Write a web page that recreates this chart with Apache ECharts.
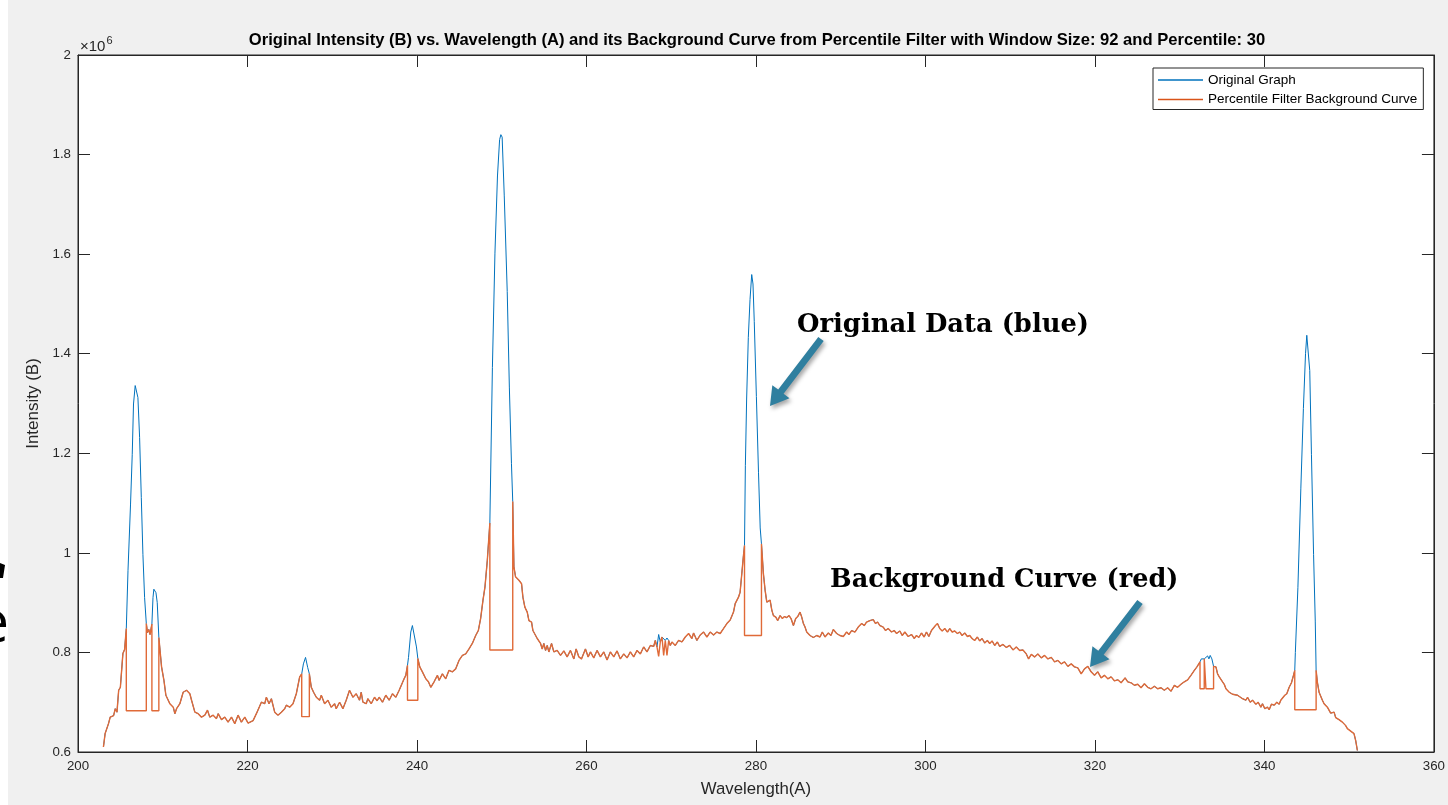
<!DOCTYPE html>
<html>
<head>
<meta charset="utf-8">
<script src="https://cdn.jsdelivr.net/npm/echarts/dist/echarts.min.js"></script>
<style>
  html, body { margin: 0; padding: 0; background: #ffffff; }
  #chart { width: 1448px; height: 805px; }
</style>
</head>
<body>
<div id="chart"></div>
<script>
// Intensity values are in units of 10^6 (the axis carries the x10^6 multiplier).

// Percentile-filter background curve (x = wavelength, A).
// Repeated wavelengths mark the vertical steps where the filter flattens a peak.
const wavelength = [
  203.0, 203.2, 203.6, 203.8, 204.2, 204.4, 204.6, 204.8, 205.0, 205.3,
  205.5, 205.7, 205.7, 208.06, 208.06, 208.2, 208.35, 208.5, 208.72, 208.72,
  209.54, 209.54, 209.86, 210.14, 210.37, 210.84, 211.24, 211.43, 211.63, 212.02,
  212.41, 212.61, 212.81, 213.0, 213.2, 213.4, 213.79, 214.18, 214.57, 214.97,
  215.28, 215.55, 215.95, 216.34, 216.54, 216.93, 217.32, 217.71, 218.11, 218.5,
  218.89, 219.28, 219.68, 220.07, 220.66, 221.05, 221.64, 222.03, 222.23, 222.54,
  222.82, 223.21, 223.6, 224.0, 224.39, 224.58, 224.98, 225.37, 225.76, 226.16,
  226.4, 226.4, 227.3, 227.3, 227.53, 227.8, 228.12, 228.51, 228.71, 229.1,
  229.49, 229.88, 230.28, 230.47, 230.87, 231.26, 231.65, 232.04, 232.44, 232.83,
  233.22, 233.42, 233.62, 234.01, 234.2, 234.6, 234.99, 235.3, 235.54, 235.93,
  236.32, 236.72, 237.11, 237.5, 237.9, 238.09, 238.48, 238.68, 238.88, 238.88,
  240.1, 240.1, 240.33, 240.64, 241.04, 241.35, 241.63, 242.02, 242.41, 242.61,
  243.0, 243.39, 243.78, 244.18, 244.57, 244.96, 245.36, 245.75, 246.14, 246.53,
  246.93, 247.24, 247.51, 247.79, 248.02, 248.3, 248.6, 248.6, 251.3, 251.3,
  251.44, 251.63, 252.03, 252.34, 252.5, 252.73, 253.01, 253.21, 253.52, 253.68,
  253.91, 254.19, 254.38, 254.58, 254.78, 254.97, 255.17, 255.37, 255.56, 255.88,
  256.15, 256.54, 256.94, 257.33, 257.72, 258.11, 258.51, 258.78, 259.1, 259.41,
  259.88, 260.2, 260.47, 260.86, 261.25, 261.65, 262.04, 262.43, 262.82, 263.22,
  263.61, 264.0, 264.4, 264.79, 265.18, 265.57, 265.97, 266.36, 266.75, 267.14,
  267.54, 267.93, 268.12, 268.32, 268.52, 268.71, 268.91, 269.11, 269.3, 269.5,
  269.7, 269.89, 270.09, 270.48, 270.87, 271.27, 271.66, 272.05, 272.44, 272.64,
  273.03, 273.42, 273.82, 274.21, 274.6, 275.0, 275.39, 275.78, 276.17, 276.57,
  276.96, 277.35, 277.55, 277.94, 278.13, 278.33, 278.5, 278.65, 278.65, 280.65,
  280.65, 280.88, 281.08, 281.28, 281.47, 281.67, 281.87, 282.06, 282.34, 282.57,
  282.85, 283.12, 283.36, 283.63, 283.91, 284.14, 284.42, 284.69, 284.93, 285.2,
  285.4, 285.6, 285.79, 285.99, 286.38, 286.77, 287.17, 287.56, 287.83, 288.15,
  288.54, 288.85, 289.13, 289.52, 289.91, 290.31, 290.7, 290.97, 291.29, 291.68,
  292.07, 292.47, 292.78, 293.05, 293.45, 293.84, 294.11, 294.35, 294.63, 295.02,
  295.29, 295.6, 296.0, 296.31, 296.59, 296.98, 297.26, 297.57, 297.96, 298.36,
  298.67, 298.94, 299.22, 299.53, 299.85, 300.12, 300.4, 300.71, 300.91, 301.18,
  301.42, 301.69, 301.97, 302.28, 302.6, 302.87, 303.15, 303.46, 303.77, 304.05,
  304.32, 304.64, 304.95, 305.23, 305.5, 305.81, 306.13, 306.4, 306.68, 306.99,
  307.31, 307.58, 307.86, 308.17, 308.49, 308.76, 309.15, 309.55, 309.94, 310.33,
  310.72, 311.12, 311.51, 311.9, 312.17, 312.49, 312.88, 313.27, 313.67, 314.06,
  314.45, 314.85, 315.24, 315.63, 316.02, 316.41, 316.81, 317.2, 317.59, 317.98,
  318.38, 318.77, 319.16, 319.55, 319.95, 320.34, 320.73, 321.12, 321.52, 321.91,
  322.3, 322.7, 323.09, 323.56, 323.87, 324.27, 324.66, 325.05, 325.44, 325.84,
  326.23, 326.62, 327.01, 327.41, 327.8, 328.19, 328.58, 328.98, 329.37, 329.76,
  330.15, 330.55, 330.94, 331.33, 331.73, 332.04, 332.4, 332.4, 332.9, 332.9,
  333.1, 333.1, 334.0, 334.0, 334.28, 334.47, 334.67, 334.87, 335.06, 335.26,
  335.46, 335.65, 335.85, 336.04, 336.24, 336.44, 336.83, 337.03, 337.42, 337.81,
  338.01, 338.32, 338.6, 338.99, 339.26, 339.58, 339.77, 340.05, 340.36, 340.56,
  340.83, 341.15, 341.46, 341.74, 341.93, 342.13, 342.4, 342.64, 342.92, 343.19,
  343.43, 343.58, 343.58, 346.1, 346.1, 346.25, 346.45, 346.64, 346.84, 347.04,
  347.23, 347.43, 347.63, 347.82, 348.02, 348.22, 348.41, 348.61, 348.8, 349.0,
  349.2, 349.39, 349.59, 349.79, 349.98, 350.18, 350.38, 350.57, 350.77, 350.97
];

const background = [
  0.610, 0.637, 0.657, 0.670, 0.673, 0.687, 0.680, 0.724, 0.730, 0.798,
  0.806, 0.848, 0.683, 0.683, 0.858, 0.840, 0.846, 0.836, 0.857, 0.683,
  0.683, 0.830, 0.771, 0.744, 0.714, 0.697, 0.690, 0.677, 0.687, 0.697,
  0.720, 0.717, 0.724, 0.727, 0.717, 0.704, 0.680, 0.677, 0.670, 0.674,
  0.684, 0.670, 0.674, 0.667, 0.677, 0.665, 0.670, 0.660, 0.670, 0.657,
  0.674, 0.660, 0.670, 0.658, 0.663, 0.677, 0.700, 0.697, 0.710, 0.697,
  0.707, 0.680, 0.674, 0.680, 0.687, 0.694, 0.690, 0.697, 0.717, 0.751,
  0.757, 0.671, 0.671, 0.757, 0.730, 0.720, 0.710, 0.704, 0.714, 0.697,
  0.704, 0.690, 0.697, 0.687, 0.700, 0.687, 0.704, 0.724, 0.710, 0.717,
  0.704, 0.720, 0.700, 0.697, 0.707, 0.697, 0.710, 0.703, 0.710, 0.700,
  0.714, 0.704, 0.717, 0.710, 0.724, 0.720, 0.747, 0.754, 0.774, 0.704,
  0.704, 0.788, 0.771, 0.761, 0.747, 0.741, 0.730, 0.741, 0.754, 0.744,
  0.757, 0.747, 0.764, 0.761, 0.767, 0.784, 0.794, 0.797, 0.807, 0.818,
  0.834, 0.844, 0.868, 0.905, 0.931, 0.985, 1.060, 0.805, 0.805, 1.103,
  0.972, 0.952, 0.945, 0.938, 0.911, 0.891, 0.881, 0.864, 0.861, 0.844,
  0.841, 0.828, 0.824, 0.818, 0.807, 0.818, 0.804, 0.814, 0.801, 0.818,
  0.801, 0.804, 0.794, 0.803, 0.791, 0.804, 0.787, 0.807, 0.791, 0.787,
  0.807, 0.791, 0.801, 0.789, 0.804, 0.791, 0.801, 0.785, 0.801, 0.791,
  0.803, 0.787, 0.797, 0.789, 0.801, 0.791, 0.804, 0.797, 0.811, 0.801,
  0.814, 0.812, 0.824, 0.811, 0.792, 0.821, 0.831, 0.794, 0.824, 0.794,
  0.824, 0.814, 0.821, 0.814, 0.824, 0.821, 0.831, 0.838, 0.828, 0.839,
  0.824, 0.835, 0.841, 0.831, 0.841, 0.835, 0.841, 0.838, 0.848, 0.858,
  0.865, 0.881, 0.898, 0.911, 0.921, 0.958, 0.990, 1.015, 0.834, 0.834,
  1.018, 0.958, 0.925, 0.901, 0.898, 0.905, 0.885, 0.874, 0.871, 0.864,
  0.874, 0.868, 0.872, 0.870, 0.874, 0.868, 0.854, 0.868, 0.872, 0.881,
  0.871, 0.858, 0.851, 0.841, 0.834, 0.830, 0.834, 0.831, 0.841, 0.831,
  0.839, 0.834, 0.846, 0.838, 0.834, 0.832, 0.841, 0.836, 0.844, 0.841,
  0.851, 0.858, 0.854, 0.861, 0.864, 0.866, 0.858, 0.861, 0.854, 0.851,
  0.844, 0.848, 0.841, 0.844, 0.838, 0.843, 0.834, 0.841, 0.832, 0.836,
  0.828, 0.834, 0.830, 0.839, 0.831, 0.841, 0.832, 0.844, 0.848, 0.854,
  0.858, 0.848, 0.843, 0.848, 0.841, 0.848, 0.841, 0.843, 0.838, 0.841,
  0.834, 0.839, 0.832, 0.834, 0.828, 0.824, 0.831, 0.823, 0.828, 0.819,
  0.824, 0.818, 0.823, 0.814, 0.821, 0.812, 0.816, 0.810, 0.814, 0.805,
  0.811, 0.804, 0.805, 0.797, 0.787, 0.796, 0.791, 0.797, 0.789, 0.794,
  0.787, 0.790, 0.781, 0.784, 0.777, 0.781, 0.772, 0.777, 0.771, 0.769,
  0.757, 0.767, 0.772, 0.761, 0.754, 0.761, 0.749, 0.754, 0.747, 0.751,
  0.743, 0.745, 0.739, 0.749, 0.741, 0.739, 0.734, 0.736, 0.729, 0.737,
  0.730, 0.727, 0.732, 0.727, 0.729, 0.724, 0.729, 0.722, 0.734, 0.730,
  0.736, 0.741, 0.745, 0.754, 0.764, 0.771, 0.781, 0.727, 0.727, 0.787,
  0.790, 0.727, 0.727, 0.772, 0.771, 0.757, 0.751, 0.747, 0.741, 0.736,
  0.727, 0.730, 0.720, 0.724, 0.716, 0.720, 0.714, 0.718, 0.707, 0.704,
  0.710, 0.700, 0.704, 0.696, 0.700, 0.690, 0.697, 0.687, 0.690, 0.685,
  0.696, 0.694, 0.700, 0.696, 0.704, 0.705, 0.714, 0.717, 0.730, 0.739,
  0.754, 0.764, 0.685, 0.685, 0.764, 0.740, 0.720, 0.717, 0.704, 0.697,
  0.700, 0.690, 0.687, 0.678, 0.676, 0.680, 0.669, 0.672, 0.665, 0.669,
  0.660, 0.658, 0.653, 0.647, 0.650, 0.642, 0.640, 0.637, 0.623, 0.603
];

// Original spectrum inside each filtered window (where it rises above the background).
// Outside these windows the original spectrum coincides with the background curve.
const peakWavelength = [
  [205.7, 205.9, 206.2, 206.4, 206.55, 206.75, 206.85, 207.07, 207.27, 207.47, 207.66, 207.86, 208.06],
  [208.72, 208.85, 208.95, 209.1, 209.2, 209.35, 209.54],
  [226.4, 226.6, 226.85, 226.95, 227.1, 227.3],
  [238.88, 239.0, 239.27, 239.46, 239.66, 239.94, 240.1],
  [248.6, 248.9, 249.2, 249.5, 249.75, 249.9, 250.05, 250.3, 250.65, 250.9, 251.15, 251.3],
  [268.32, 268.52, 268.71, 268.91, 269.11, 269.3, 269.5, 269.7, 269.89],
  [278.65, 278.75, 278.9, 279.1, 279.3, 279.5, 279.65, 279.8, 280.05, 280.3, 280.5, 280.65],
  [332.4, 332.55, 332.7, 332.9, 333.1, 333.3, 333.45, 333.6, 333.8, 334.0],
  [343.58, 343.65, 343.95, 344.3, 344.6, 344.85, 345.0, 345.15, 345.35, 345.55, 345.8, 346.0, 346.1]
];
const peakIntensity = [
  [0.848, 0.964, 1.098, 1.198, 1.299, 1.336, 1.338, 1.312, 1.232, 1.111, 0.997, 0.910, 0.858],
  [0.857, 0.910, 0.927, 0.925, 0.920, 0.900, 0.830],
  [0.757, 0.777, 0.790, 0.786, 0.770, 0.757],
  [0.774, 0.790, 0.841, 0.854, 0.851, 0.811, 0.788],
  [1.060, 1.372, 1.602, 1.757, 1.830, 1.840, 1.835, 1.717, 1.525, 1.333, 1.179, 1.103],
  [0.811, 0.836, 0.821, 0.831, 0.830, 0.824, 0.829, 0.824, 0.814],
  [1.015, 1.175, 1.309, 1.433, 1.509, 1.559, 1.540, 1.465, 1.314, 1.162, 1.050, 1.018],
  [0.781, 0.787, 0.783, 0.787, 0.790, 0.793, 0.787, 0.794, 0.787, 0.772],
  [0.764, 0.800, 0.930, 1.130, 1.290, 1.400, 1.437, 1.436, 1.366, 1.198, 0.997, 0.863, 0.764]
];

const xTicks = { min: 200, max: 360, step: 20 };
const yTicks = { min: 0.6, max: 2, step: 0.2 };

// ---- series assembly ----
const backgroundSeries = wavelength.map((x, i) => [x, background[i]]);
const windows = peakWavelength.map((xs, g) => ({
  lo: xs[0],
  hi: xs[xs.length - 1],
  pts: xs.map((x, i) => [x, peakIntensity[g][i]])
}));
const originalSeries = backgroundSeries.filter(([x]) => !windows.some(w => x >= w.lo && x <= w.hi));
windows.forEach(w => originalSeries.push(...w.pts));
originalSeries.sort((a, b) => a[0] - b[0]);

const FONT = 'Liberation Sans, Arial, Helvetica, sans-serif';
const INK = '#262626';

// Thick annotation arrow as a single polygon, tail -> tip in pixels.
function arrow(x1, y1, x2, y2) {
  const dx = x2 - x1, dy = y2 - y1, L = Math.hypot(dx, dy);
  const ux = dx / L, uy = dy / L, nx = -uy, ny = ux;
  const w = 3.4, hw = 10.8, hl = 18;
  const bx = x2 - ux * hl, by = y2 - uy * hl;
  return {
    type: 'polygon',
    z: 100,
    shape: { points: [
      [x1 + nx * w, y1 + ny * w], [bx + nx * w, by + ny * w], [bx + nx * hw, by + ny * hw],
      [x2, y2],
      [bx - nx * hw, by - ny * hw], [bx - nx * w, by - ny * w], [x1 - nx * w, y1 - ny * w]
    ] },
    style: {
      fill: '#2f7f9f',
      shadowBlur: 4, shadowOffsetX: 2, shadowOffsetY: 3, shadowColor: 'rgba(0,0,0,0.35)'
    }
  };
}

const axisCommon = {
  type: 'value',
  axisLine: { show: true, lineStyle: { color: INK, width: 1 } },
  axisTick: { show: true, inside: true, length: 12, lineStyle: { color: INK, width: 1 } },
  splitLine: { show: false },
  axisLabel: { color: INK, fontSize: 13.3, fontFamily: FONT }
};

const chart = echarts.init(document.getElementById('chart'));
chart.setOption({
  animation: false,
  backgroundColor: '#f0f0f0',
  grid: {
    left: 78, top: 55, width: 1359, height: 697,
    show: true, backgroundColor: '#ffffff', borderColor: INK, borderWidth: 1
  },
  legend: {
    orient: 'vertical',
    left: 1153, top: 68,
    padding: [5, 6, 3, 5],
    itemGap: 5.5,
    itemWidth: 45, itemHeight: 1.5,
    icon: 'rect',
    backgroundColor: '#ffffff',
    borderColor: INK, borderWidth: 1, borderRadius: 0,
    textStyle: { color: '#000000', fontSize: 13.5, fontFamily: FONT },
    data: ['Original Graph', 'Percentile Filter Background Curve']
  },
  xAxis: [
    Object.assign({}, axisCommon, {
      position: 'bottom', min: xTicks.min, max: xTicks.max, interval: xTicks.step,
      axisLabel: Object.assign({}, axisCommon.axisLabel, { margin: 8 }),
      name: 'Wavelength(A)', nameLocation: 'middle', nameGap: 29,
      nameTextStyle: { color: INK, fontSize: 16.8, fontFamily: FONT }
    }),
    Object.assign({}, axisCommon, {
      position: 'top', min: xTicks.min, max: xTicks.max, interval: xTicks.step,
      axisLabel: { show: false }
    })
  ],
  yAxis: [
    Object.assign({}, axisCommon, {
      position: 'left', min: yTicks.min, max: yTicks.max, interval: yTicks.step,
      axisLabel: Object.assign({}, axisCommon.axisLabel, {
        margin: 7, formatter: v => String(+v.toFixed(1))
      }),
      name: 'Intensity (B)', nameLocation: 'middle', nameGap: 32,
      nameTextStyle: { color: INK, fontSize: 17, fontFamily: FONT }
    }),
    Object.assign({}, axisCommon, {
      position: 'right', min: yTicks.min, max: yTicks.max, interval: yTicks.step,
      axisLabel: { show: false }
    })
  ],
  series: [
    {
      name: 'Original Graph', type: 'line', data: originalSeries,
      xAxisIndex: 0, yAxisIndex: 0,
      showSymbol: false, symbol: 'none', smooth: false,
      color: '#0072BD', lineStyle: { width: 1, color: '#0072BD' }
    },
    {
      name: 'Percentile Filter Background Curve', type: 'line', data: backgroundSeries,
      xAxisIndex: 0, yAxisIndex: 0,
      showSymbol: false, symbol: 'none', smooth: false,
      color: '#D95319', lineStyle: { width: 1.4, color: '#E06A38' }
    }
  ],
  graphic: [
    { type: 'rect', shape: { x: 0, y: 0, width: 8, height: 805 }, style: { fill: '#ffffff' }, z: 1 },
    {
      type: 'text', x: 757, y: 40, z: 10,
      style: {
        text: 'Original Intensity (B) vs. Wavelength (A) and its Background Curve from Percentile Filter with Window Size: 92 and Percentile: 30',
        font: 'bold 16.6px ' + FONT, fill: '#000000', textAlign: 'center', textVerticalAlign: 'middle'
      }
    },
    {
      type: 'text', x: 80, y: 46.5, z: 10,
      style: { text: '\u00d710', font: '15px ' + FONT, fill: INK, textVerticalAlign: 'middle' }
    },
    {
      type: 'text', x: 106.5, y: 41, z: 10,
      style: { text: '6', font: '11px ' + FONT, fill: INK, textVerticalAlign: 'middle' }
    },
    {
      type: 'text', x: 797, y: 325, z: 100,
      style: { text: 'Original Data (blue)', font: 'bold 25.8px "DejaVu Serif", serif', fill: '#000000', textVerticalAlign: 'middle' }
    },
    {
      type: 'text', x: 830, y: 580, z: 100,
      style: { text: 'Background Curve (red)', font: 'bold 25.6px "DejaVu Serif", serif', fill: '#000000', textVerticalAlign: 'middle' }
    },
    arrow(821, 339, 770, 406),
    arrow(1140, 602, 1090, 667),
    {
      type: 'polygon', z: 100,
      shape: { points: [[0, 563], [5, 565], [3, 578], [0, 578]] },
      style: { fill: '#000000' }
    },
    {
      type: 'text', x: 9, y: 625, z: 100,
      style: { text: 'e', font: '58px "Open Sans", sans-serif', fill: '#000000', textAlign: 'right', textVerticalAlign: 'middle' }
    }
  ]
});
</script>
</body>
</html>
